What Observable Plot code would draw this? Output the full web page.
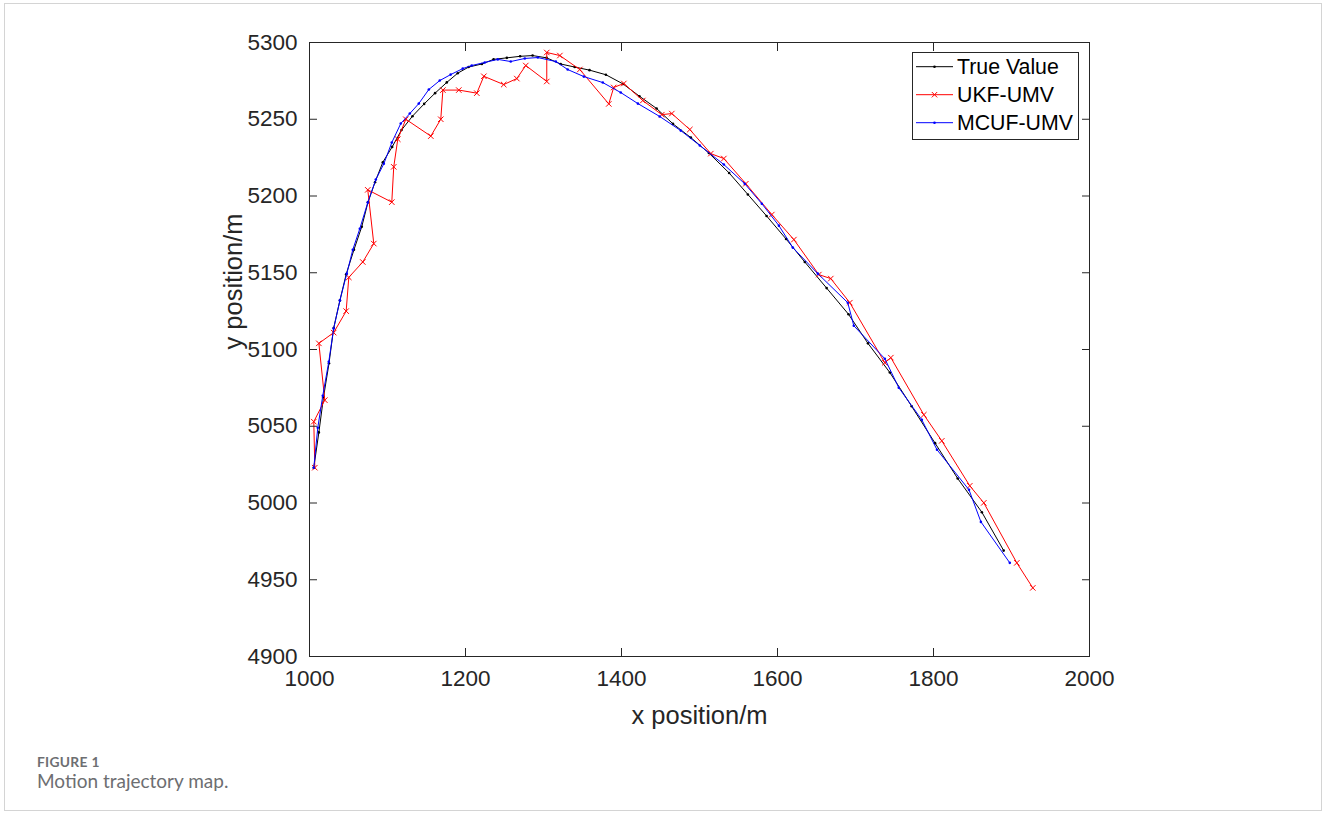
<!DOCTYPE html>
<html><head><meta charset="utf-8">
<script src="https://cdn.jsdelivr.net/npm/d3@7"></script>
<script src="https://cdn.jsdelivr.net/npm/@observablehq/plot@0.6"></script>
<style>
html,body{margin:0;padding:0;background:#fff;}
#frame{position:absolute;left:4px;top:3px;width:1318px;height:808px;border:1px solid #d4d4d4;box-sizing:border-box;z-index:2;pointer-events:none;}
#chart{position:absolute;left:0;top:0;z-index:1;}
#cap{position:absolute;left:37px;top:753px;font-family:Lato,"Open Sans",sans-serif;color:#6d6e71;z-index:3;}
#cap .fig{font-weight:700;font-size:13.8px;letter-spacing:0.3px;line-height:17px;}
#cap .txt{font-size:19px;line-height:22px;margin-top:0px;}
</style></head><body>
<div id="frame"></div>
<div id="chart"></div>
<div id="cap"><div class="fig">FIGURE 1</div><div class="txt">Motion trajectory map.</div></div>
<script>
const xTicks = [1000, 1200, 1400, 1600, 1800, 2000];
const yTicks = [4900, 4950, 5000, 5050, 5100, 5150, 5200, 5250, 5300];
const seriesNames = ["True Value", "UKF-UMV", "MCUF-UMV"];
const seriesColors = ["#000000", "#ff0000", "#0000ff"];
const xLabel = "x position/m";
const yLabel = "y position/m";

const trueX = [1005.5,1012,1018,1025,1031,1039,1047,1057,1067,1075,1084,1094,1106,1118,1132,1147,1161,1176,1190,1204,1221,1236,1253,1270,1286,1304,1322,1340,1359,1380,1402,1423,1445,1466,1489,1512,1538,1562,1586,1611,1635,1663,1691,1716,1744,1772,1802,1831,1862,1890];
const trueY = [5023,5046,5069,5091,5114,5132,5149,5165,5180,5196,5209,5222,5232,5243,5252,5260,5267,5274,5280,5284,5286,5289,5290,5291,5291.5,5290,5286,5284,5282,5279,5273,5265,5257,5247,5238,5228,5215,5201,5187,5172,5157,5140,5123,5104,5085,5063,5039,5016,4994,4969];

const ukfX = [1006.8,1005.5,1019.6,1012,1031,1047,1050.4,1068.3,1082.4,1074.7,1105.5,1108,1113.2,1123.5,1155.5,1168.3,1171,1191.4,1214.5,1223.5,1249,1265.8,1277.3,1304.2,1304.2,1321,1346.5,1383.7,1390,1403,1427.3,1451.7,1464.5,1487.6,1514.5,1531.2,1559.4,1592.7,1621,1653,1668.3,1692.7,1737.6,1745.3,1787.6,1810.6,1846.5,1864.5,1906.8,1927.3];
const ukfY = [5023,5053,5067,5104,5111,5125,5147,5157,5169,5204,5196,5219,5237,5250,5239,5250,5269,5269,5267,5278,5272.6,5276.5,5285,5274.6,5293.5,5291.5,5282.4,5260,5270.7,5273.3,5262.2,5253,5253.7,5243.3,5227.6,5224.4,5208,5187.9,5171.6,5148.8,5146.2,5130.5,5091.4,5094.7,5057.5,5040.5,5011.2,5000.1,4961,4944.7];

const mcufX = [1005.5,1010.6,1017,1024.7,1031,1039,1047.8,1055.5,1064.5,1074.7,1085,1095.3,1105.5,1117,1128.6,1140.1,1153,1167,1181,1196.5,1208,1224.7,1241.4,1258,1276,1292.7,1315.8,1331,1351.7,1376,1399,1421,1449,1476,1500.4,1531.2,1558,1579.9,1601.8,1619.6,1651.7,1690.1,1697.8,1737.6,1755.5,1785,1804.5,1845.5,1860.8,1897.8];
const mcufY = [5023,5049,5069.9,5092,5113.6,5132,5149.4,5165,5178.7,5195.7,5210.7,5221,5234.8,5247.2,5253.7,5260.2,5269.4,5275.2,5279.1,5283,5285,5287,5289,5287.6,5289.6,5290.2,5287.6,5282.4,5277.8,5273.9,5267.4,5260.2,5251.8,5242.6,5232.9,5220.5,5208,5195,5180.7,5166.4,5149.4,5130.5,5115.5,5094,5075.1,5054.2,5034.7,5008.6,4987.7,4961];

const toRows = (xs, ys) => xs.map((x, i) => ({x, y: ys[i]}));
const trueData = toRows(trueX, trueY);
const ukfData = toRows(ukfX, ukfY);
const mcufData = toRows(mcufX, mcufY);

const axisColor = "#262626";
const fmt = d => String(d);
const font = "'Liberation Sans', Arial, Helvetica, sans-serif";

const plot = Plot.plot({
  width: 1328, height: 740,
  marginLeft: 309, marginRight: 239, marginTop: 42, marginBottom: 84,
  style: {fontFamily: font, fontSize: "22.5px", color: axisColor, background: "transparent", overflow: "visible"},
  x: {domain: [1000, 2000]},
  y: {domain: [4900, 5300]},
  marks: [
    Plot.line(trueData, {x: "x", y: "y", stroke: seriesColors[0], strokeWidth: 1}),
    Plot.dot(trueData, {x: "x", y: "y", r: 1.3, fill: seriesColors[0], stroke: null}),
    Plot.line(ukfData, {x: "x", y: "y", stroke: seriesColors[1], strokeWidth: 1}),
    Plot.dot(ukfData, {x: "x", y: "y", symbol: "times", r: 2.6, stroke: seriesColors[1], strokeWidth: 1}),
    Plot.line(mcufData, {x: "x", y: "y", stroke: seriesColors[2], strokeWidth: 1}),
    Plot.dot(mcufData, {x: "x", y: "y", r: 1.3, fill: seriesColors[2], stroke: null}),
    Plot.axisX({anchor: "bottom", ticks: xTicks, tickSize: -8, tickPadding: 22, tickFormat: fmt, label: null}),
    Plot.axisX({anchor: "top", ticks: xTicks, tickSize: -8, tickFormat: () => "", label: null}),
    Plot.axisY({anchor: "left", ticks: yTicks, tickSize: -8, tickPadding: 20, tickFormat: fmt, label: null}),
    Plot.axisY({anchor: "right", ticks: yTicks, tickSize: -8, tickFormat: () => "", label: null}),
    Plot.frame({stroke: axisColor, strokeWidth: 1}),
    Plot.text([xLabel], {text: d => d, frameAnchor: "bottom", dy: 59, fontSize: 25.5, lineAnchor: "middle", fill: axisColor}),
    Plot.text([yLabel], {text: d => d, frameAnchor: "left", dx: -76, rotate: -90, fontSize: 25.5, lineAnchor: "middle", fill: axisColor})
  ]
});
document.getElementById("chart").appendChild(plot);

// Legend (MATLAB-style box inside the axes, upper right)
const svg = d3.select(plot);
const lg = svg.append("g").attr("font-family", font).attr("font-size", 21.3).attr("text-anchor", "start");
lg.append("rect").attr("x", 912.5).attr("y", 52.5).attr("width", 166).attr("height", 87)
  .attr("fill", "white").attr("stroke", axisColor).attr("stroke-width", 1);
seriesNames.forEach((name, i) => {
  const cy = 66.7 + i * 28;
  const c = seriesColors[i];
  lg.append("line").attr("x1", 916).attr("x2", 953).attr("y1", cy).attr("y2", cy).attr("stroke", c).attr("stroke-width", 1);
  if (i === 1) {
    const s = 2.7;
    lg.append("path").attr("d", `M${934.5-s},${cy-s}L${934.5+s},${cy+s}M${934.5-s},${cy+s}L${934.5+s},${cy-s}`)
      .attr("stroke", c).attr("stroke-width", 1).attr("fill", "none");
  } else {
    lg.append("circle").attr("cx", 934.5).attr("cy", cy).attr("r", 1.3).attr("fill", c);
  }
  lg.append("text").attr("x", 957).attr("y", cy).attr("dy", "0.35em").attr("text-anchor", "start").attr("fill", "#000").text(name);
});
</script>
</body></html>
